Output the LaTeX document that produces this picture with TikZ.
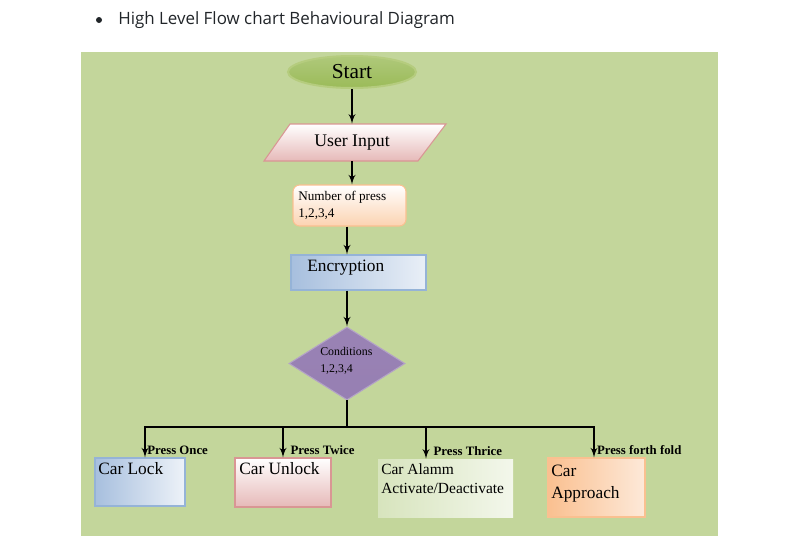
\documentclass[tikz,border=0pt]{standalone}
\usepackage{fontspec}
\setmainfont{Liberation Serif}
\newfontfamily\titlefont{Open Sans}
\usetikzlibrary{arrows}
\usetikzlibrary{positioning}
\usetikzlibrary{shapes.geometric}
\definecolor{bgreen}{HTML}{C3D69B}
\definecolor{sgreen}{HTML}{9BBB59}
\definecolor{lgreen}{HTML}{B5CC7E}
\definecolor{mpink}{HTML}{E6B9B8}
\definecolor{dpink}{HTML}{D99694}
\definecolor{morange}{HTML}{FAC090}
\definecolor{lorange}{HTML}{FDE9D9}
\definecolor{mblue}{HTML}{A7BFDE}
\definecolor{dblue}{HTML}{95B3D7}
\definecolor{mpurple}{HTML}{7A5C9E}
\definecolor{lpurple}{HTML}{B3A2C7}
\definecolor{agreen}{HTML}{D7E4BD}
\definecolor{tgray}{HTML}{212529}
\tikzset{flow/.style = {->, >=latex', line width=1.5pt}}
\tikzset{bus/.style = {line width=1.5pt, line cap=rect}}
\tikzset{txt/.style = {inner sep=0, anchor=west, align=left}}
\tikzset{box/.style = {draw, line width=0.8pt, inner sep=0}}

\begin{document}
\begin{tikzpicture}[x=0.75pt, y=-0.75pt]
  \useasboundingbox (0,0) rectangle (791,536);
  \fill [bgreen] (81,52) rectangle (718,536);

  \fill [tgray] (99,20) circle (3);
  \node (title) at (118,20) [txt, text=tgray, font=\titlefont\fontsize{12.7}{15}\selectfont] {High Level Flow chart Behavioural Diagram};

  \node (start) at (352,72) [ellipse, box, draw=lgreen, line width=1.5pt, top color=sgreen!80, bottom color=sgreen, minimum width=96pt, minimum height=24pt, font=\fontsize{16}{18}\selectfont] {Start};

  \shade [top color=white, bottom color=mpink, draw=dpink, line width=0.8pt] (290,124) -- (446,124) -- (418,161) -- (264,161) -- cycle;
  \node (input) at (352,142.5) [inner sep=0, minimum height=27.75pt, font=\fontsize{13.3}{15}\selectfont] {User Input};

  \node (number) at (349.5,205.5) [box, rounded corners=5pt, draw=morange, top color=white, bottom color=morange!70, minimum width=84.75pt, minimum height=30.75pt] {};
  \node at (298,205.5) [txt, font=\fontsize{9.9}{12.75}\selectfont] {Number of press\\1,2,3,4};

  \node (enc) at (358.5,272.5) [box, draw=dblue, left color=mblue, right color=white!75!mblue, minimum width=101.25pt, minimum height=26.25pt] {};
  \node at (307,268) [txt, font=\fontsize{13}{15}\selectfont] {Encryption};

  \node (cond) at (347,363.5) [diamond, box, draw=lpurple, top color=lpurple!55!mpurple, middle color=mpurple, bottom color=lpurple!50!mpurple, minimum width=87pt, minimum height=54.75pt] {};
  \node at (320,361) [txt, font=\fontsize{8.9}{12.75}\selectfont] {Conditions\\1,2,3,4};

  % outcomes
  \node (lock) at (140,482) [box, draw=dblue, left color=mblue, right color=white!80!mblue, minimum width=67.5pt, minimum height=36pt] {};
  \node at (98,469) [txt, font=\fontsize{13}{15}\selectfont] {Car Lock};

  \node (unlock) at (283,482.5) [box, draw=dpink, top color=white, bottom color=mpink, minimum width=72pt, minimum height=36.75pt] {};
  \node at (239,469) [txt, font=\fontsize{13}{15}\selectfont] {Car Unlock};

  \node (alarm) at (445.5,488) [inner sep=0, left color=agreen, right color=white!70!agreen, minimum width=101.25pt, minimum height=43.5pt] {};
  \node at (381,478.5) [txt, font=\fontsize{11.6}{14.25}\selectfont] {Car Alamm\\Activate/Deactivate};

  \node (approach) at (596.5,487.5) [box, draw=morange, left color=morange, right color=lorange, minimum width=72.75pt, minimum height=44.25pt] {};
  \node at (551,483.5) [txt, font=\fontsize{13}{16.5}\selectfont] {Car\\Approach};

  \draw [flow] (start) -- (input);
  \draw [flow] (input) -- (input |- number.north);
  \draw [flow] (number.south -| cond) -- (cond |- enc.north);
  \draw [flow] (enc.south -| cond) -- (cond);

  \coordinate (locktop) at (145,427);
  \coordinate (unlocktop) at (283,427);
  \coordinate (alarmtop) at (426,427);
  \coordinate (approachtop) at (594,427);
  \draw [bus] (cond.south) -- (cond.south |- locktop);
  \draw [bus] (locktop) -- (approachtop);
  \foreach \n/\g/\t in {lock/1/Press Once, unlock/5/Press Twice, alarm/5/Press Thrice, approach/1.5/Press forth fold} {
    \draw [flow] (\n top) -- (\n top |- \n.north)
      node [pos=0.77, right=\g pt, txt, font=\bfseries\fontsize{9.6}{11}\selectfont] {\t};
  }
\end{tikzpicture}
\end{document}
